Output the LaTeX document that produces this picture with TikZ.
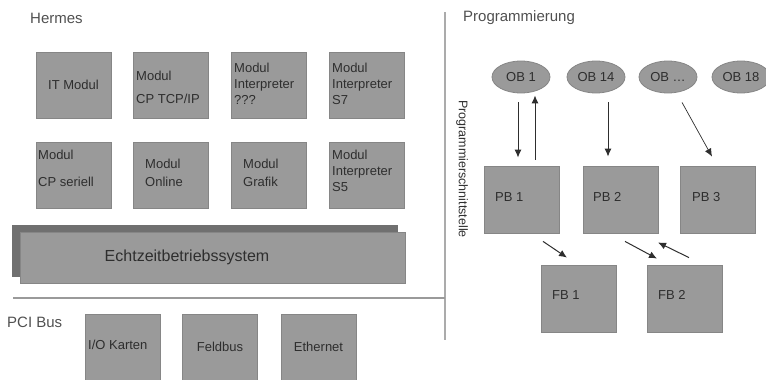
\documentclass[tikz,border=0pt]{standalone}
\usepackage{fontspec}
\setmainfont{Liberation Sans}
\usetikzlibrary{arrows.meta,shapes.geometric}
\definecolor{hmFill}{HTML}{9A9A9A}
\definecolor{hmEdge}{HTML}{868686}
\definecolor{hmShade}{HTML}{707070}
\definecolor{hmInk}{HTML}{2E2E2E}
\definecolor{hmMuted}{HTML}{505050}
\definecolor{hmLine}{HTML}{ABABAB}
\tikzset{
  hm diagram/.style={x=1pt, y=-1pt, text=hmInk, font=\fontsize{13}{15}\selectfont},
  hm box/.style={draw=hmEdge, fill=hmFill, line width=0.8pt,
    minimum width=75pt, minimum height=66pt, inner sep=0pt},
  hm wide/.style={hm box, minimum width=385pt, minimum height=51pt},
  hm ob/.style={ellipse, draw=hmEdge, fill=hmFill, line width=0.8pt,
    minimum width=58pt, minimum height=32pt, inner sep=0pt},
  hm text/.style={anchor=west, align=left, inner sep=0pt},
  hm title/.style={anchor=west, inner sep=0pt, text=hmMuted,
    font=\fontsize{15}{18}\selectfont},
  hm arrow/.style={-{Latex[length=8pt,width=7pt]}, draw=hmInk, line width=1pt},
  hm rule/.style={draw=hmLine, line width=1.6pt}
}
\begin{document}
\begin{tikzpicture}[hm diagram]
\useasboundingbox (0,0) rectangle (766,380);
% section rules
\draw[hm rule] (445,12) -- (445,340);
\draw[hm rule, draw=hmFill] (13,298) -- (445,298);

% Hermes modules
\node[hm title] (hermes) at (30,18) {Hermes};
\node[hm box] (itmodul) at (73.5,85) {IT Modul};
\node[hm box] (cptcp) at (171,85) {};
\node[hm text] (cptcp-t) at (136,87.5) {Modul\\[8pt]CP TCP/IP};
\node[hm box] (interq) at (269,85) {};
\node[hm text] (interq-t) at (234,83.5) {Modul\\[1pt]Interpreter\\[1pt]???};
\node[hm box] (inters7) at (366.5,85) {};
\node[hm text] (inters7-t) at (332,83.5) {Modul\\[1pt]Interpreter\\[1pt]S7};
\node[hm box] (cpser) at (73.5,175.5) {};
\node[hm text] (cpser-t) at (38,168.5) {Modul\\[12pt]CP seriell};
\node[hm box] (online) at (171,175.5) {};
\node[hm text] (online-t) at (145,173) {Modul\\[3pt]Online};
\node[hm box] (grafik) at (269,175.5) {};
\node[hm text] (grafik-t) at (243,173) {Modul\\[3pt]Grafik};
\node[hm box] (inters5) at (366.5,175.5) {};
\node[hm text] (inters5-t) at (332,171) {Modul\\[1pt]Interpreter\\[1pt]S5};

% real-time OS slab
\node[hm wide, draw=hmShade, fill=hmShade] (osshadow) at (204.5,250.5) {};
\node[hm wide] (rtos) at (212.5,257.5) {};
\node[font=\fontsize{16}{18}\selectfont, inner sep=0pt] (rtos-t) at (187,257) {Echtzeitbetriebssystem};

% PCI bus cards
\node[hm title] (pci) at (7,322) {PCI Bus};
\node[hm box] (iokarten) at (123,347) {};
\node[hm text] (iokarten-t) at (88,345) {I/O Karten};
\node[hm box] (feldbus) at (220,347) {Feldbus};
\node[hm box] (ethernet) at (318.5,347) {Ethernet};

% Programmierung
\node[hm title] (prog) at (463,18) {Programmierung};
\node[rotate=-90, inner sep=0pt, font=\fontsize{12.5}{14}\selectfont] (schnitt) at (462,169) {Programmierschnittstelle};
\node[hm ob] (ob1) at (521,77) {OB 1};
\node[hm ob] (ob14) at (596,77) {OB 14};
\node[hm ob] (obx) at (668,77) {OB \dots};
\node[hm ob] (ob18) at (741,77) {OB 18};
\node[hm box, minimum height=67pt] (pb1) at (522,199.5) {};
\node[hm text] (pb1-t) at (495,197) {PB 1};
\node[hm box, minimum height=67pt] (pb2) at (620.5,199.5) {};
\node[hm text] (pb2-t) at (593,197) {PB 2};
\node[hm box, minimum height=67pt] (pb3) at (717.5,199.5) {};
\node[hm text] (pb3-t) at (692,197) {PB 3};
\node[hm box, minimum height=67pt] (fb1) at (579,298.5) {};
\node[hm text] (fb1-t) at (552,295) {FB 1};
\node[hm box, minimum height=67pt] (fb2) at (685,298.5) {};
\node[hm text] (fb2-t) at (658,295) {FB 2};

% calls
\draw[hm arrow] ([xshift=-3pt,yshift=-9pt]ob1.south) -- ([xshift=-4pt,yshift=8pt]pb1.north);
\draw[hm arrow] ([xshift=13pt,yshift=6pt]pb1.north) -- ([xshift=14pt,yshift=-2pt]ob1.south);
\draw[hm arrow] ([xshift=12pt,yshift=-9pt]ob14.south) -- ([xshift=-12.5pt,yshift=9pt]pb2.north);
\draw[hm arrow, line width=0.7pt] ([xshift=14pt,yshift=-9pt]obx.south) -- ([xshift=-5.5pt,yshift=9pt]pb3.north);
\draw[hm arrow] ([xshift=21pt,yshift=-8pt]pb1.south) -- ([xshift=-12pt,yshift=7pt]fb1.north);
\draw[hm arrow] ([xshift=4.5pt,yshift=-8pt]pb2.south) -- ([xshift=-28pt,yshift=6pt]fb2.north);
\draw[hm arrow] ([xshift=4pt,yshift=7pt]fb2.north) -- ([xshift=37.5pt,yshift=-9pt]pb2.south);
\end{tikzpicture}
\end{document}
